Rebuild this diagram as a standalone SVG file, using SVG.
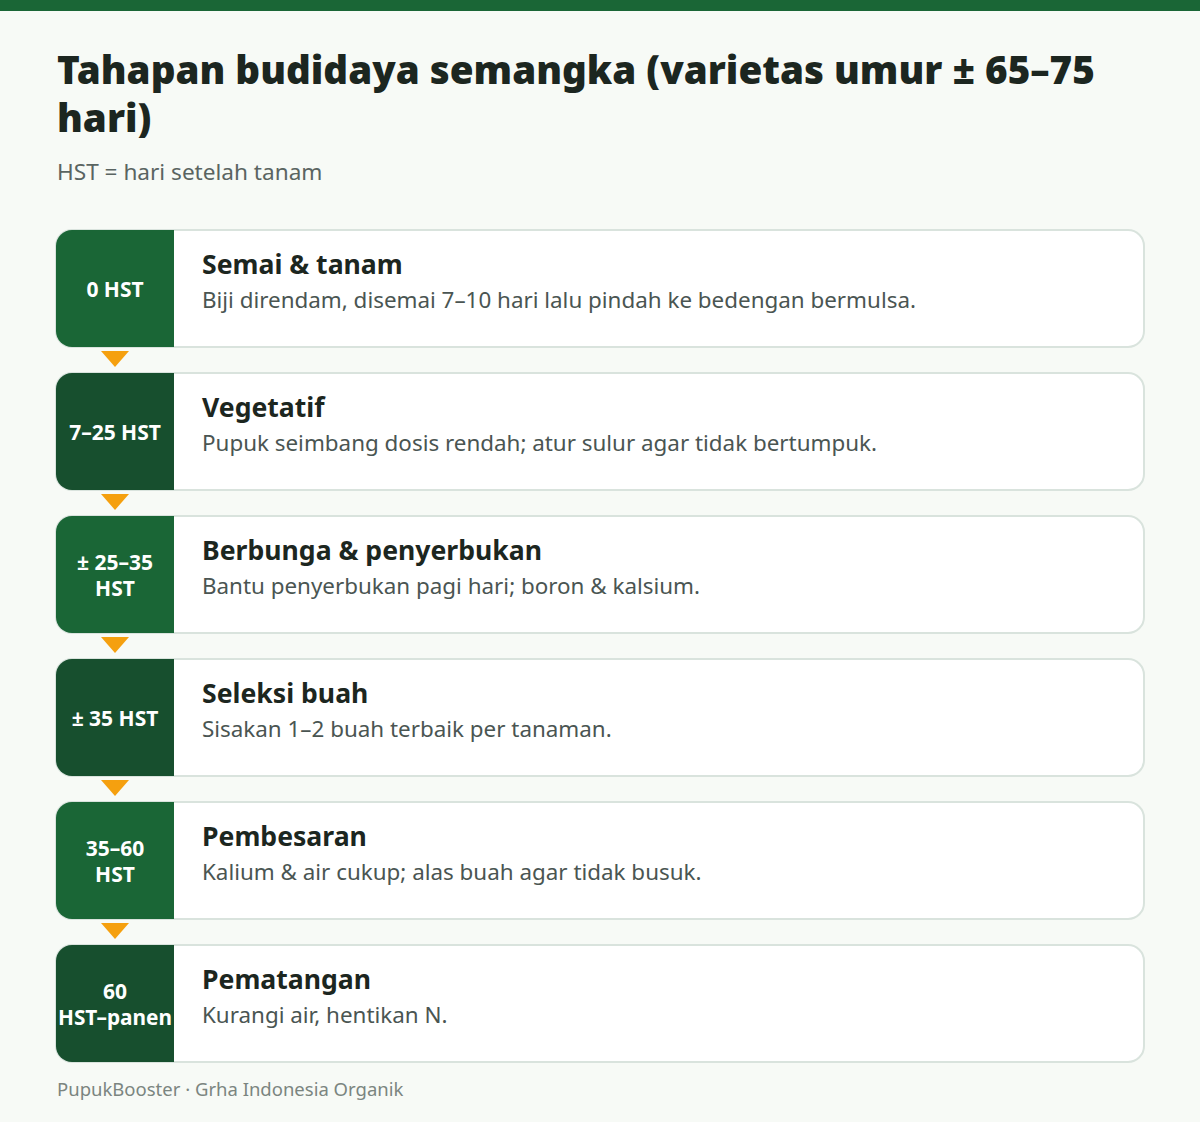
<svg xmlns="http://www.w3.org/2000/svg" width="1200" height="1122" viewBox="0 0 1200 1122">
<defs>
<style>
.bg{fill:#f7faf6}
.card{fill:#ffffff;stroke:#d9e3dd;stroke-width:2}
.badgeA{fill:#1a6636}
.badgeB{fill:#174f2e}
.btxt{font-family:"Noto Sans","Open Sans",sans-serif;font-weight:700;font-size:21px;fill:#ffffff;text-anchor:middle}
.ttl{font-family:"Noto Sans","Open Sans",sans-serif;font-weight:700;font-size:26.6px;fill:#1c2620}
.desc{font-family:"Noto Sans","Open Sans",sans-serif;font-size:22.4px;fill:#4a5552}
.arrow{fill:#f5a00f}
</style>
</defs>
<rect class="bg" x="0" y="0" width="1200" height="1122"/>
<rect x="0" y="0" width="1200" height="11" fill="#1a6636"/>
<g id="title">
<text x="57" y="84" font-family="Noto Sans, sans-serif" font-weight="900" font-size="38.6" fill="#1c2620">Tahapan budidaya semangka (varietas umur ± 65–75</text>
<text x="57" y="132" font-family="Noto Sans, sans-serif" font-weight="900" font-size="38.6" fill="#1c2620">hari)</text>
<text x="57" y="180" font-family="Noto Sans, sans-serif" font-size="22.6" fill="#5a6461">HST = hari setelah tanam</text>
</g>
<g id="connectors">
<polygon class="arrow" points="101,351 129,351 115,367"/>
<polygon class="arrow" points="101,494 129,494 115,510"/>
<polygon class="arrow" points="101,637 129,637 115,653"/>
<polygon class="arrow" points="101,780 129,780 115,796"/>
<polygon class="arrow" points="101,923 129,923 115,939"/>
</g>
<g id="step1">
<rect class="card" x="56" y="230" width="1088" height="117" rx="16"/>
<path class="badgeA" d="M72,230 H174 V347 H72 A16,16 0 0 1 56,331 V246 A16,16 0 0 1 72,230 Z"/>
<text class="btxt" x="115" y="297">0 HST</text>
<text class="ttl" x="202" y="274">Semai &amp; tanam</text>
<text class="desc" x="202" y="308">Biji direndam, disemai 7–10 hari lalu pindah ke bedengan bermulsa.</text>
</g>
<g id="step2">
<rect class="card" x="56" y="373" width="1088" height="117" rx="16"/>
<path class="badgeB" d="M72,373 H174 V490 H72 A16,16 0 0 1 56,474 V389 A16,16 0 0 1 72,373 Z"/>
<text class="btxt" x="115" y="440">7–25 HST</text>
<text class="ttl" x="202" y="417">Vegetatif</text>
<text class="desc" x="202" y="451">Pupuk seimbang dosis rendah; atur sulur agar tidak bertumpuk.</text>
</g>
<g id="step3">
<rect class="card" x="56" y="516" width="1088" height="117" rx="16"/>
<path class="badgeA" d="M72,516 H174 V633 H72 A16,16 0 0 1 56,617 V532 A16,16 0 0 1 72,516 Z"/>
<text class="btxt" x="115" y="570">± 25–35</text>
<text class="btxt" x="115" y="596">HST</text>
<text class="ttl" x="202" y="560">Berbunga &amp; penyerbukan</text>
<text class="desc" x="202" y="594">Bantu penyerbukan pagi hari; boron &amp; kalsium.</text>
</g>
<g id="step4">
<rect class="card" x="56" y="659" width="1088" height="117" rx="16"/>
<path class="badgeB" d="M72,659 H174 V776 H72 A16,16 0 0 1 56,760 V675 A16,16 0 0 1 72,659 Z"/>
<text class="btxt" x="115" y="726">± 35 HST</text>
<text class="ttl" x="202" y="703">Seleksi buah</text>
<text class="desc" x="202" y="737">Sisakan 1–2 buah terbaik per tanaman.</text>
</g>
<g id="step5">
<rect class="card" x="56" y="802" width="1088" height="117" rx="16"/>
<path class="badgeA" d="M72,802 H174 V919 H72 A16,16 0 0 1 56,903 V818 A16,16 0 0 1 72,802 Z"/>
<text class="btxt" x="115" y="856">35–60</text>
<text class="btxt" x="115" y="882">HST</text>
<text class="ttl" x="202" y="846">Pembesaran</text>
<text class="desc" x="202" y="880">Kalium &amp; air cukup; alas buah agar tidak busuk.</text>
</g>
<g id="step6">
<rect class="card" x="56" y="945" width="1088" height="117" rx="16"/>
<path class="badgeB" d="M72,945 H174 V1062 H72 A16,16 0 0 1 56,1046 V961 A16,16 0 0 1 72,945 Z"/>
<text class="btxt" x="115" y="999">60</text>
<text class="btxt" x="115" y="1025" textLength="114" lengthAdjust="spacingAndGlyphs">HST–panen</text>
<text class="ttl" x="202" y="989">Pematangan</text>
<text class="desc" x="202" y="1023">Kurangi air, hentikan N.</text>
</g>
<text x="57" y="1096" font-family="Noto Sans, sans-serif" font-size="18.5" fill="#7b8580">PupukBooster · Grha Indonesia Organik</text>
</svg>
